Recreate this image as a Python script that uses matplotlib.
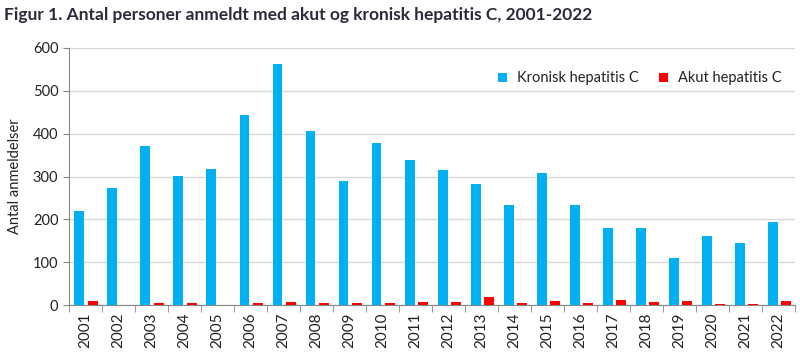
import matplotlib
matplotlib.use("Agg")
import matplotlib.pyplot as plt
import numpy as np

years = [str(y) for y in range(2001, 2023)]
kronisk = [220, 274, 372, 302, 318, 444, 563, 405, 290, 379, 339, 316, 283, 234, 309, 234, 181, 181, 110, 162, 145, 194]
akut = [10, 0, 5, 5, 0, 5, 8, 5, 5, 5, 8, 8, 19, 5, 10, 5, 12, 8, 10, 3, 3, 10]

plt.rcParams['font.family'] = ['Lato', 'DejaVu Sans']
fig = plt.figure(figsize=(8, 3.52), dpi=100)
ax = fig.add_axes([0.086, 0.133, 0.908, 0.731])

x = np.arange(len(years))
ax.bar(x - 0.18, kronisk, width=0.3, color='#00B0F0', label='Kronisk hepatitis C', zorder=3)
ax.bar(x + 0.22, akut, width=0.3, color='#FF0000', label='Akut hepatitis C', zorder=3)

ax.set_xlim(-0.5, len(years) - 0.5)
ax.set_ylim(0, 600)
ax.set_yticks(range(0, 601, 100))
ax.yaxis.grid(True, color='#D9D9D9', linewidth=1, zorder=0)
ax.set_axisbelow(True)

ax.set_xticks(x)
ax.set_xticklabels(years, rotation=90, fontsize=11, color='#222222')
ax.set_xticks(np.arange(-0.5, len(years), 1), minor=True)
ax.tick_params(axis='x', which='major', length=0, pad=5)
ax.tick_params(axis='x', which='minor', length=5, color='#888888')
ax.tick_params(axis='y', length=4, color='#888888', labelsize=10.5, labelcolor='#222222')

for s in ['top', 'right']:
    ax.spines[s].set_visible(False)
for s in ['left', 'bottom']:
    ax.spines[s].set_color('#888888')

ax.set_ylabel('Antal anmeldelser', fontsize=10.5, color='#222222', labelpad=8)

leg = ax.legend(loc='upper right', bbox_to_anchor=(1.0, 0.96), ncol=2, frameon=False,
                fontsize=10.5, handlelength=0.6, handleheight=0.6, columnspacing=1.4,
                handletextpad=0.7)
for t in leg.get_texts():
    t.set_color('#222222')

fig.text(0.005, 0.958, 'Figur 1. Antal personer anmeldt med akut og kronisk hepatitis C, 2001-2022',
         fontsize=12.5, fontweight='bold', color='#2B2B3B', va='center', ha='left')

fig.savefig('out.png', dpi=100)
